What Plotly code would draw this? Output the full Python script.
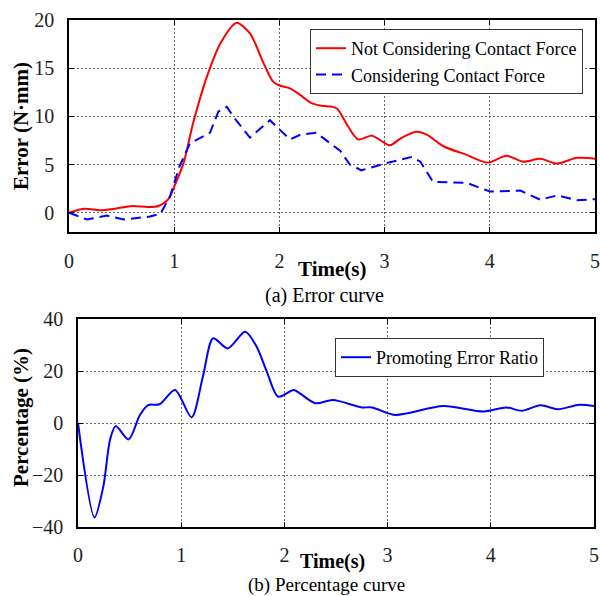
import plotly.graph_objects as go

# ---- data ----
t_red = [0, 0.15, 0.3, 0.45, 0.6, 0.75, 0.85, 0.95, 1.0, 1.09, 1.18, 1.31, 1.44, 1.59, 1.72, 1.85,
         1.94, 2.0, 2.1, 2.2, 2.3, 2.4, 2.5, 2.55, 2.65, 2.75, 2.88, 3.05, 3.15, 3.3, 3.4, 3.56,
         3.78, 3.98, 4.16, 4.32, 4.48, 4.64, 4.83, 5.0]
v_red = [0, 0.4, 0.25, 0.45, 0.7, 0.6, 0.7, 1.5, 2.7, 5.2, 9.3, 14.1, 17.6, 19.7, 18.6, 15.5,
         13.6, 13.2, 12.9, 12.2, 11.4, 11.1, 11.0, 10.8, 9.0, 7.6, 8.0, 7.0, 7.7, 8.4, 8.1, 6.9,
         6.0, 5.2, 5.9, 5.3, 5.6, 5.1, 5.7, 5.6]

t_blue = [0, 0.17, 0.36, 0.52, 0.77, 0.87, 0.96, 1.05, 1.15, 1.34, 1.42, 1.5, 1.56, 1.72, 1.91,
          2.1, 2.2, 2.35, 2.58, 2.67, 2.78, 3.0, 3.26, 3.34, 3.46, 3.78, 4.0, 4.29, 4.48, 4.64,
          4.83, 5.0]
v_blue = [0, -0.7, -0.3, -0.7, -0.4, -0.1, 1.7, 4.8, 7.2, 8.3, 10.5, 11.0, 10.0, 7.8, 9.6,
          7.6, 8.1, 8.3, 6.4, 5.0, 4.4, 5.1, 5.8, 5.3, 3.2, 3.1, 2.2, 2.3, 1.35, 1.8,
          1.3, 1.4]

t_pct = [0, 0.16, 0.245, 0.31, 0.365, 0.49, 0.6, 0.68, 0.79, 0.94, 1.1, 1.21, 1.31, 1.45, 1.62,
         1.73, 1.83, 1.94, 2.09, 2.15, 2.3, 2.47, 2.75, 2.85, 3.07, 3.54, 3.93, 4.15, 4.30,
         4.48, 4.65, 4.86, 5.0]
v_pct = [0, -36.3, -24.5, -6.5, -1.2, -6.3, 3.1, 6.9, 7.2, 12.7, 2.2, 17.8, 32.6, 28.7, 35.1,
         29.4, 19.7, 10.1, 12.7, 11.4, 7.6, 8.8, 6.0, 6.0, 3.1, 6.5, 4.4, 6.0, 4.7,
         6.8, 5.3, 7.0, 6.5]

x_ticks = [0, 1, 2, 3, 4, 5]
err_ticks = [0, 5, 10, 15, 20]
pct_ticks = [-40, -20, 0, 20, 40]

name_red = "Not Considering Contact Force"
name_blue = "Considering Contact Force"
name_pct = "Promoting Error Ratio"

FONT = "Liberation Serif"
W, H = 600, 596

fig = go.Figure()
fig.add_trace(go.Scatter(x=t_red, y=v_red, mode="lines", name=name_red,
                         line=dict(color="#ff0000", width=2, shape="spline", smoothing=0.8),
                         xaxis="x", yaxis="y", legend="legend"))
fig.add_trace(go.Scatter(x=t_blue, y=v_blue, mode="lines", name=name_blue,
                         line=dict(color="#0000ff", width=2, dash="10px,6px"),
                         xaxis="x", yaxis="y", legend="legend"))
fig.add_trace(go.Scatter(x=t_pct, y=v_pct, mode="lines", name=name_pct,
                         line=dict(color="#0000ff", width=2, shape="spline", smoothing=0.8),
                         xaxis="x2", yaxis="y2", legend="legend2"))

ax_common = dict(showline=True, linecolor="black", linewidth=1.5, mirror="ticks",
                 ticks="inside", ticklen=5, tickcolor="black", tickwidth=1,
                 showgrid=True, gridcolor="#666666", griddash="2px,2px", gridwidth=1,
                 zeroline=False, automargin=False,
                 tickfont=dict(family=FONT, size=20, color="#222"))

def px_x(p):
    return p / W

def px_y(p):
    return 1 - p / H

fig.update_layout(
    width=W, height=H, margin=dict(l=0, r=0, t=0, b=0, autoexpand=False),
    paper_bgcolor="white", plot_bgcolor="white",
    font=dict(family=FONT, size=18, color="black"),
    xaxis=dict(domain=[px_x(69), px_x(595)], range=[0, 5], tickvals=x_ticks,
               anchor="y", ticklabelstandoff=10, **ax_common),
    yaxis=dict(domain=[px_y(232), px_y(20)], range=[-2, 20], tickvals=err_ticks,
               anchor="x", ticklabelstandoff=9, **ax_common),
    xaxis2=dict(domain=[px_x(78), px_x(594)], range=[0, 5], tickvals=x_ticks,
                anchor="y2", ticklabelstandoff=9, **ax_common),
    yaxis2=dict(domain=[px_y(527), px_y(319)], range=[-40, 40], tickvals=pct_ticks,
                anchor="x2", ticklabelstandoff=9, **ax_common),
    legend=dict(x=px_x(583), xanchor="right", y=px_y(29), yanchor="top",
                bordercolor="#333", borderwidth=1, bgcolor="white",
                font=dict(family=FONT, size=18), tracegroupgap=0),
    legend2=dict(x=px_x(544), xanchor="right", y=px_y(338), yanchor="top",
                 bordercolor="#333", borderwidth=1, bgcolor="white",
                 font=dict(family=FONT, size=18)),
    showlegend=True,
)

def ann(text, x, y, size=20, angle=0):
    fig.add_annotation(text=text, x=px_x(x), y=px_y(y), xref="paper", yref="paper",
                       showarrow=False, textangle=angle, xanchor="center", yanchor="middle",
                       font=dict(family=FONT, size=size, color="black"))

ann("<b>Time(s)</b>", 332, 269, 21)
ann("(a) Error curve", 324, 296, 20)
ann("<b>Time(s)</b>", 332, 561, 20)
ann("(b) Percentage curve", 326, 585, 19)
ann("<b>Error (N·mm)</b>", 21, 126, 21, -90)
ann("<b>Percentage (%)</b>", 21, 418, 21, -90)

fig.write_html("out.html")
